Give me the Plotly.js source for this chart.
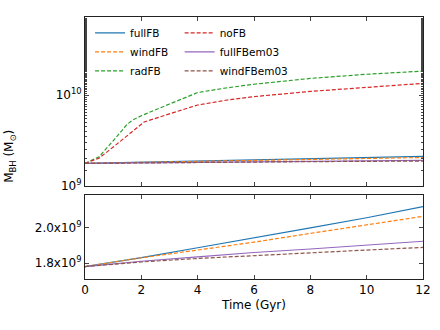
<!DOCTYPE html>
<html>
<head>
<meta charset="utf-8">
<script src="https://cdn.plot.ly/plotly-3.0.1.min.js"></script>
<style>
  body { margin: 0; background: #fff; }
  #chart { width: 440px; height: 330px; }
</style>
</head>
<body>
<div id="chart"></div>
<script>
// time in Gyr
const tSlow = [0, 2, 4, 6, 8, 10, 12];
const tRad = [0, 0.5, 1, 1.5, 1.7, 2, 3, 4, 5, 6, 8, 10, 12];
const tNo = [0, 0.5, 1, 1.5, 2, 2.1, 3, 4, 5, 6, 8, 10, 12];

// black hole mass, Msun
const fullFB = [1.78e9, 1.831e9, 1.887e9, 1.942e9, 2.0e9, 2.058e9, 2.122e9];
const windFB = [1.78e9, 1.83e9, 1.874e9, 1.919e9, 1.969e9, 2.017e9, 2.066e9];
const fullFBem03 = [1.78e9, 1.81e9, 1.835e9, 1.86e9, 1.88e9, 1.901e9, 1.924e9];
const windFBem03 = [1.78e9, 1.806e9, 1.826e9, 1.843e9, 1.86e9, 1.874e9, 1.889e9];
const radFB = [1.78e9, 2.1e9, 3.15e9, 4.8e9, 5.35e9, 5.95e9, 8.0e9, 1.07e10, 1.2e10, 1.32e10, 1.53e10, 1.70e10, 1.84e10];
const noFB = [1.78e9, 2.03e9, 2.69e9, 3.6e9, 4.8e9, 5.07e9, 6.24e9, 7.8e9, 8.8e9, 9.65e9, 1.1e10, 1.23e10, 1.35e10];

const topTicks = [1e9, 1e10];
const topLabels = ['10<sup>9</sup>', '10<sup>10</sup>'];
const botTicks = [1.8e9, 2.0e9];
const botLabels = ['1.8x10<sup>9</sup>', '2.0x10<sup>9</sup>'];

const series = [
  { name: 'fullFB', x: tSlow, y: fullFB, color: '#1f77b4', dash: 'solid', legend: 'legend', bottom: true },
  { name: 'windFB', x: tSlow, y: windFB, color: '#ff7f0e', dash: '4px,2px', legend: 'legend', bottom: true },
  { name: 'radFB', x: tRad, y: radFB, color: '#2ca02c', dash: '4px,2px', legend: 'legend', bottom: false },
  { name: 'noFB', x: tNo, y: noFB, color: '#d62728', dash: '4px,2px', legend: 'legend2', bottom: false },
  { name: 'fullFBem03', x: tSlow, y: fullFBem03, color: '#9467bd', dash: 'solid', legend: 'legend2', bottom: true },
  { name: 'windFBem03', x: tSlow, y: windFBem03, color: '#8c564b', dash: '4px,2px', legend: 'legend2', bottom: true }
];

const traces = [];
series.forEach(s => {
  traces.push({
    x: s.x, y: s.y, name: s.name, mode: 'lines',
    xaxis: 'x', yaxis: 'y', legend: s.legend,
    line: { color: s.color, dash: s.dash, width: 1.2 }
  });
});
series.filter(s => s.bottom).forEach(s => {
  traces.push({
    x: s.x, y: s.y, name: s.name, mode: 'lines', showlegend: false,
    xaxis: 'x2', yaxis: 'y2',
    line: { color: s.color, dash: s.dash, width: 1.2 }
  });
});

const tickFont = { family: 'DejaVu Sans', size: 12, color: '#000' };
const axisCommon = {
  showline: true, linecolor: '#222', linewidth: 1, mirror: 'ticks',
  ticks: 'inside', ticklen: 4, tickcolor: '#444', showgrid: false, zeroline: false,
  tickfont: tickFont
};

const layout = {
  width: 440, height: 330,
  margin: { l: 85, r: 17, t: 17, b: 51 },
  paper_bgcolor: '#fff', plot_bgcolor: '#fff',
  font: { family: 'DejaVu Sans', size: 12, color: '#000' },
  xaxis: Object.assign({}, axisCommon, {
    domain: [0, 1], anchor: 'y', range: [0, 12], dtick: 2, showticklabels: false
  }),
  yaxis: Object.assign({}, axisCommon, {
    domain: [0.3544, 1], anchor: 'x', type: 'log', range: [9, 10.86],
    tickvals: topTicks, ticktext: topLabels,
    minor: { ticks: 'inside', ticklen: 2, tickcolor: '#444' }
  }),
  xaxis2: Object.assign({}, axisCommon, {
    domain: [0, 1], anchor: 'y2', range: [0, 12], dtick: 2,
    title: { text: 'Time (Gyr)', font: { family: 'DejaVu Sans', size: 12 }, standoff: 4 }
  }),
  yaxis2: Object.assign({}, axisCommon, {
    domain: [0, 0.3215], anchor: 'x2', range: [1.709e9, 2.189e9],
    tickvals: botTicks, ticktext: botLabels
  }),
  legend: {
    x: 0.015, y: 0.995, xanchor: 'left', yanchor: 'top',
    bgcolor: 'rgba(0,0,0,0)', font: { family: 'DejaVu Sans', size: 10.5 },
    tracegroupgap: 0
  },
  legend2: {
    x: 0.28, y: 0.995, xanchor: 'left', yanchor: 'top',
    bgcolor: 'rgba(0,0,0,0)', font: { family: 'DejaVu Sans', size: 10.5 },
    tracegroupgap: 0
  },
  annotations: [{
    text: 'M<sub>BH</sub> (M<sub>⊙</sub>)', textangle: -90,
    xref: 'paper', yref: 'paper', x: -0.222, y: 0.47,
    xanchor: 'center', yanchor: 'middle',
    showarrow: false, font: { family: 'DejaVu Sans', size: 12 }
  }]
};

Plotly.newPlot('chart', traces, layout, { displayModeBar: false, staticPlot: true });
</script>
</body>
</html>
